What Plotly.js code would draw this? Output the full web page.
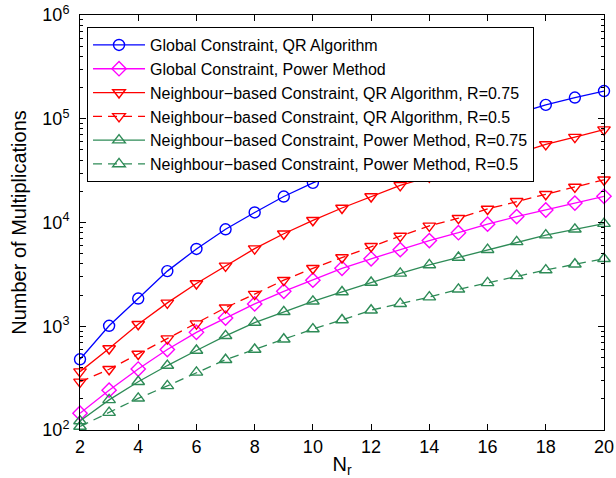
<!DOCTYPE html>
<html>
<head>
<meta charset="utf-8">
<script src="https://cdn.plot.ly/plotly-3.0.1.min.js"></script>
<style>
html,body{margin:0;padding:0;background:#fff;}
#chart{width:616px;height:478px;}
</style>
</head>
<body>
<div id="chart"></div>
<script>
const Nr = [2,3,4,5,6,7,8,9,10,11,12,13,14,15,16,17,18,19,20];

const seriesNames = [
  "Global Constraint, QR Algorithm",
  "Global Constraint, Power Method",
  "Neighbour\u2212based Constraint, QR Algorithm, R=0.75",
  "Neighbour\u2212based Constraint, QR Algorithm, R=0.5",
  "Neighbour\u2212based Constraint, Power Method, R=0.75",
  "Neighbour\u2212based Constraint, Power Method, R=0.5"
];

const globalQR = [480, 1010, 1850, 3400, 5560, 8600, 12500, 17800, 24100, 31300, 39900, 50100, 62100, 76000, 92300, 111000, 136000, 160000, 185000];
const globalPM = [145, 242, 387, 597, 873, 1200, 1640, 2170, 2780, 3620, 4470, 5470, 6700, 7970, 9630, 11400, 13200, 15400, 17900];
const neighQR075 = [365, 610, 1045, 1680, 2580, 3815, 5600, 7790, 10500, 13800, 17800, 22800, 27500, 32300, 38500, 46000, 56500, 66500, 78500];
const neighQR05 = [291, 385, 540, 760, 1060, 1510, 2040, 2780, 3620, 4600, 5900, 7400, 9270, 11000, 13500, 16000, 18700, 22000, 25800];
const neighPM075 = [122, 195, 292, 418, 584, 809, 1085, 1378, 1740, 2140, 2640, 3230, 3900, 4600, 5470, 6500, 7560, 8600, 9750];
const neighPM05 = [108, 147, 202, 266, 359, 476, 597, 750, 940, 1150, 1428, 1650, 1910, 2270, 2620, 3060, 3480, 3960, 4470];

const yTickVals = [100, 1000, 10000, 100000, 1000000];
const yTickText = ["10<sup>2</sup>", "10<sup>3</sup>", "10<sup>4</sup>", "10<sup>5</sup>", "10<sup>6</sup>"];
const yMinorVals = [200,300,400,500,600,700,800,900,2000,3000,4000,5000,6000,7000,8000,9000,20000,30000,40000,50000,60000,70000,80000,90000,200000,300000,400000,500000,600000,700000,800000,900000];

const BLUE = "#0000FF", MAG = "#FF00FF", RED = "#FF0000", GRN = "#2E8B57";
const DASH = "9px,6px";

function tr(y, name, color, symbol, dash) {
  return {
    x: Nr, y: y, name: name, type: "scatter", mode: "lines+markers",
    cliponaxis: false,
    line: {color: color, width: 1.3, dash: dash},
    marker: {symbol: symbol, size: 11, color: color, line: {color: color, width: 1.4}}
  };
}

const data = [
  tr(globalQR, seriesNames[0], BLUE, "circle-open", "solid"),
  tr(globalPM, seriesNames[1], MAG, "diamond-open", "solid"),
  tr(neighQR075, seriesNames[2], RED, "triangle-down-open", "solid"),
  tr(neighQR05, seriesNames[3], RED, "triangle-down-open", DASH),
  tr(neighPM075, seriesNames[4], GRN, "triangle-up-open", "solid"),
  tr(neighPM05, seriesNames[5], GRN, "triangle-up-open", DASH)
];

const layout = {
  width: 616, height: 478,
  margin: {l: 80, r: 12, t: 15, b: 48},
  paper_bgcolor: "#fff", plot_bgcolor: "#fff",
  font: {family: "Liberation Sans, Arial, sans-serif", color: "#000", size: 18},
  showlegend: true,
  legend: {
    x: 0.0134, y: 0.971, xanchor: "left", yanchor: "top",
    bgcolor: "#fff", bordercolor: "#000", borderwidth: 1,
    font: {size: 16, color: "#000"},
    itemwidth: 52
  },
  xaxis: {
    range: [2, 20], tick0: 2, dtick: 2,
    showgrid: false, zeroline: false,
    showline: true, linecolor: "#000", linewidth: 1, mirror: "ticks",
    ticks: "inside", ticklen: 6, tickcolor: "#000",
    tickfont: {size: 18},
    title: {text: "N<sub>r</sub>", font: {size: 20}, standoff: 2}
  },
  yaxis: {
    type: "log", range: [2, 6],
    tickvals: yTickVals, ticktext: yTickText,
    showgrid: false, zeroline: false,
    showline: true, linecolor: "#000", linewidth: 1, mirror: "ticks",
    ticks: "inside", ticklen: 6, tickcolor: "#000",
    tickfont: {size: 18},
    ticklabelstandoff: 6,
    minor: {ticks: "inside", ticklen: 3, tickcolor: "#000", tickvals: yMinorVals, showgrid: false},
    title: {text: "Number of Multiplications", font: {size: 20}, standoff: 10}
  }
};

Plotly.newPlot("chart", data, layout, {displayModeBar: false, staticPlot: true});
</script>
</body>
</html>
